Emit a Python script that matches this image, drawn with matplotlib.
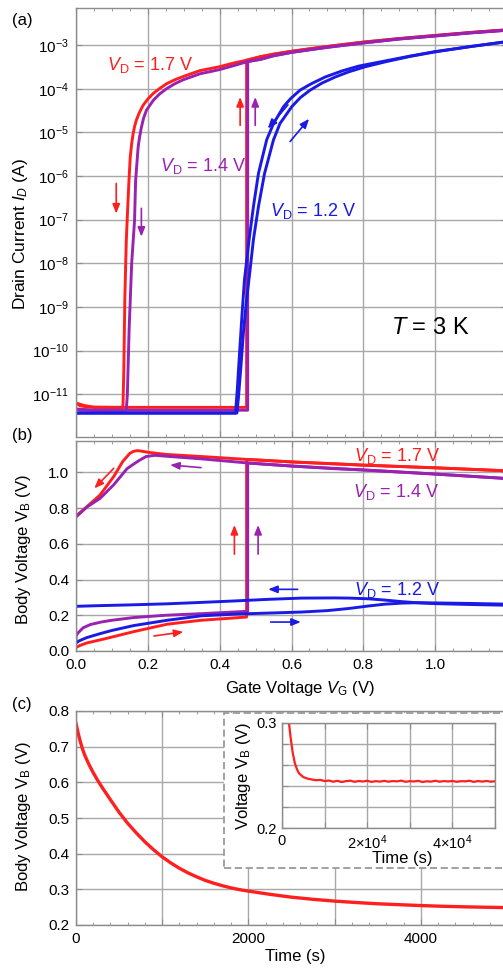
import numpy as np
import matplotlib
matplotlib.use('Agg')
import matplotlib.pyplot as plt
from matplotlib.ticker import FixedLocator, MultipleLocator, FuncFormatter, NullLocator
from matplotlib.patches import Rectangle

plt.rcParams['font.family'] = ['Liberation Sans', 'DejaVu Sans']
plt.rcParams['mathtext.fontset'] = 'custom'
plt.rcParams['mathtext.rm'] = 'Liberation Sans'
plt.rcParams['mathtext.it'] = 'Liberation Sans:italic'
plt.rcParams['mathtext.bf'] = 'Liberation Sans:bold'

RED = '#ff1f1f'
PURPLE = '#9a22b0'
BLUE = '#1a1ae6'

# ---------------- (a) drain current vs gate voltage ----------------
vg_a_red_fwd = [0.0, 0.01, 0.03, 0.1, 0.2, 0.3, 0.4, 0.475, 0.475, 0.513, 0.55, 0.6, 0.65, 0.7, 0.8,
                0.9, 1.0, 1.1, 1.2]
id_a_red_fwd = [6.3e-12, 5.5e-12, 5.1e-12, 5.0e-12, 5.0e-12, 5.0e-12, 5.0e-12, 5.0e-12, 4.5e-4,
                5.4e-4, 6.2e-4, 7.2e-4, 8.2e-4, 9.3e-4, 1.17e-3, 1.41e-3, 1.66e-3, 1.95e-3, 2.24e-3]
vg_a_red_rev = [1.2, 1.1, 1.0, 0.9, 0.8, 0.7, 0.65, 0.6, 0.55, 0.513, 0.475, 0.44, 0.4, 0.345, 0.298,
                0.275, 0.252, 0.232, 0.215, 0.2, 0.187, 0.176, 0.168, 0.163, 0.159, 0.155, 0.151,
                0.1475, 0.144, 0.140, 0.136, 0.133, 0.131, 0.13, 0.1, 0.05, 0.02, 0.0]
id_a_red_rev = [2.24e-3, 1.95e-3, 1.66e-3, 1.41e-3, 1.17e-3, 9.3e-4, 8.2e-4, 7.2e-4, 6.2e-4, 5.4e-4,
                4.5e-4, 3.9e-4, 3.2e-4, 2.6e-4, 1.9e-4, 1.6e-4, 1.3e-4, 1.0e-4, 7.8e-5, 5.8e-5,
                4.2e-5, 2.8e-5, 1.9e-5, 1.35e-5, 9.3e-6, 5.5e-6, 2.7e-6, 7.9e-7, 1.9e-7, 3.3e-8,
                1.6e-9, 3.2e-11, 6.3e-12, 5.0e-12, 5.0e-12, 5.0e-12, 5.6e-12, 6.3e-12]

vg_a_pur_fwd = [0.0, 0.01, 0.1, 0.2, 0.3, 0.4, 0.478, 0.478, 0.513, 0.55, 0.6, 0.65, 0.7, 0.8, 0.9,
                1.0, 1.1, 1.2]
id_a_pur_fwd = [4.6e-12, 4.3e-12, 4.3e-12, 4.3e-12, 4.3e-12, 4.3e-12, 4.3e-12, 4.2e-4, 4.7e-4,
                5.7e-4, 6.8e-4, 7.8e-4, 8.9e-4, 1.12e-3, 1.38e-3, 1.62e-3, 1.91e-3, 2.19e-3]
vg_a_pur_rev = [1.2, 1.1, 1.0, 0.9, 0.8, 0.7, 0.65, 0.6, 0.55, 0.513, 0.478, 0.44, 0.4, 0.345, 0.298,
                0.275, 0.252, 0.232, 0.215, 0.196, 0.188, 0.182, 0.177, 0.173, 0.166, 0.163, 0.155,
                0.148, 0.143, 0.14, 0.1, 0.05, 0.0]
id_a_pur_rev = [2.19e-3, 1.91e-3, 1.62e-3, 1.38e-3, 1.12e-3, 8.9e-4, 7.8e-4, 6.8e-4, 5.7e-4, 4.7e-4,
                4.2e-4, 3.4e-4, 2.75e-4, 2.2e-4, 1.6e-4, 1.3e-4, 1.0e-4, 7.5e-5, 5.4e-5, 3.2e-5,
                2.1e-5, 1.3e-5, 7.8e-6, 4.6e-6, 7.9e-7, 9.5e-8, 1.0e-8, 3.2e-10, 1.0e-11, 4.3e-12,
                4.3e-12, 4.3e-12, 4.6e-12]

vg_a_blu_fwd = [0.0, 0.2, 0.4, 0.448, 0.452, 0.458, 0.466, 0.474, 0.484, 0.494, 0.508, 0.525, 0.55,
                0.568, 0.601, 0.625, 0.652, 0.685, 0.722, 0.76, 0.806, 0.862, 0.93, 1.0, 1.1, 1.2]
id_a_blu_fwd = [3.7e-12, 3.7e-12, 3.7e-12, 3.7e-12, 7.9e-12, 3.2e-11, 2.5e-10, 1.26e-9, 6.3e-9,
                3.5e-8, 2.0e-7, 1.15e-6, 6.8e-6, 1.6e-5, 3.9e-5, 6.3e-5, 9.3e-5, 1.35e-4, 1.86e-4,
                2.45e-4, 3.2e-4, 4.15e-4, 5.5e-4, 7.0e-4, 9.3e-4, 1.2e-3]
vg_a_blu_rev = [1.2, 1.1, 1.0, 0.93, 0.862, 0.787, 0.74, 0.694, 0.655, 0.624, 0.598, 0.578, 0.55,
                0.531, 0.508, 0.494, 0.482, 0.469, 0.462, 0.455, 0.449, 0.444, 0.3, 0.1, 0.0]
id_a_blu_rev = [1.2e-3, 9.3e-4, 7.1e-4, 5.6e-4, 4.35e-4, 3.3e-4, 2.55e-4, 1.86e-4, 1.3e-4, 9.3e-5,
                6.0e-5, 3.9e-5, 1.6e-5, 6.8e-6, 1.15e-6, 2.0e-7, 3.5e-8, 4.2e-9, 6.3e-10, 7.9e-11,
                1.26e-11, 3.7e-12, 3.7e-12, 3.7e-12, 3.7e-12]

# ---------------- (b) body voltage vs gate voltage ----------------
vg_b_red_fwd = [0.0, 0.01, 0.03, 0.067, 0.1, 0.16, 0.254, 0.348, 0.42, 0.475, 0.475, 0.6, 0.8, 1.0, 1.2]
vb_b_red_fwd = [0.02, 0.03, 0.045, 0.062, 0.078, 0.108, 0.15, 0.172, 0.182, 0.19, 1.072,
                1.058, 1.04, 1.025, 1.008]
vg_b_red_rev = [1.2, 1.0, 0.8, 0.6, 0.475, 0.35, 0.25, 0.2, 0.18, 0.17, 0.16, 0.15, 0.13, 0.105,
                0.067, 0.03, 0.0]
vb_b_red_rev = [1.008, 1.025, 1.04, 1.058, 1.072, 1.088, 1.1, 1.112, 1.119, 1.121, 1.117, 1.106,
                1.06, 0.976, 0.873, 0.807, 0.755]

vg_b_pur_fwd = [0.0, 0.0, 0.005, 0.02, 0.04, 0.07, 0.1, 0.16, 0.25, 0.35, 0.478, 0.478, 0.6, 0.72,
                0.8, 1.0, 1.2]
vb_b_pur_fwd = [0.06, 0.085, 0.1, 0.13, 0.148, 0.162, 0.172, 0.187, 0.2, 0.209, 0.222, 1.052,
                1.035, 1.02, 1.013, 0.99, 0.965]
vg_b_pur_rev = [1.2, 1.0, 0.8, 0.6, 0.478, 0.35, 0.25, 0.22, 0.195, 0.175, 0.16, 0.142, 0.105,
                0.067, 0.03, 0.0]
vb_b_pur_rev = [0.965, 0.99, 1.013, 1.035, 1.052, 1.075, 1.09, 1.095, 1.088, 1.065, 1.045, 1.02,
                0.93, 0.854, 0.805, 0.75]

vg_b_blu_fwd = [0.0, 0.01, 0.03, 0.067, 0.1, 0.16, 0.254, 0.35, 0.45, 0.55, 0.628, 0.7, 0.76, 0.815,
                0.86, 0.908, 0.95, 1.0, 1.1, 1.2]
vb_b_blu_fwd = [0.045, 0.058, 0.075, 0.097, 0.115, 0.142, 0.172, 0.197, 0.207, 0.213, 0.218, 0.226,
                0.238, 0.252, 0.262, 0.268, 0.27, 0.269, 0.266, 0.262]
vg_b_blu_rev = [1.2, 1.1, 1.0, 0.95, 0.908, 0.86, 0.815, 0.76, 0.721, 0.628, 0.535, 0.441, 0.35,
                0.254, 0.15, 0.05, 0.0]
vb_b_blu_rev = [0.256, 0.26, 0.265, 0.27, 0.276, 0.285, 0.292, 0.296, 0.297, 0.296, 0.289, 0.28,
                0.272, 0.264, 0.258, 0.253, 0.25]

# ---------------- (c) body voltage vs time ----------------
t_c = [0, 25, 50, 75, 100, 150, 200, 250, 300, 400, 500, 600, 700, 800, 900, 1000, 1100, 1200,
       1300, 1400, 1500, 1600, 1700, 1800, 1900, 2000, 2250, 2500, 2750, 3000, 3250, 3500, 3750,
       4000, 4250, 4500, 4750, 5000]
vb_c = [0.765, 0.738, 0.714, 0.694, 0.677, 0.650, 0.627, 0.606, 0.587, 0.551, 0.516, 0.485, 0.458,
        0.433, 0.411, 0.391, 0.374, 0.359, 0.346, 0.335, 0.325, 0.317, 0.310, 0.304, 0.299, 0.295,
        0.286, 0.278, 0.272, 0.267, 0.263, 0.2595, 0.257, 0.2545, 0.2525, 0.251, 0.2498, 0.2488]

t_inset = [0, 500, 1000, 1500, 2000, 2500, 3000, 3500, 4000, 5000, 6000, 7000, 8000,
           9000, 10000, 11000, 12000, 13000, 14000, 15000, 16000, 17000, 18000, 19000, 20000,
           21000, 22000, 23000, 24000, 25000, 26000, 27000, 28000, 29000, 30000, 31000, 32000,
           33000, 34000, 35000, 36000, 37000, 38000, 39000, 40000, 41000, 42000, 43000, 44000,
           45000, 46000, 47000, 48000, 49000, 50000]
vb_inset = [0.765, 0.52, 0.40, 0.305, 0.287, 0.272, 0.262, 0.256, 0.252, 0.2485, 0.2470, 0.2462,
            0.2455, 0.2458, 0.2447, 0.2452, 0.2441, 0.2449, 0.2438, 0.2446, 0.2451, 0.2440,
            0.2447, 0.2443, 0.2450, 0.2439, 0.2446, 0.2442, 0.2449, 0.2441, 0.2447, 0.2444,
            0.2451, 0.2440, 0.2446, 0.2443, 0.2449, 0.2438, 0.2445, 0.2442, 0.2450, 0.2441,
            0.2447, 0.2443, 0.2448, 0.2440, 0.2446, 0.2444, 0.2450, 0.2439, 0.2447, 0.2442,
            0.2448, 0.2441, 0.2445]

W, H = 503, 969
fig = plt.figure(figsize=(W / 100, H / 100), dpi=100)


def fr(l, t, r, b):
    return [l / W, 1 - b / H, (r - l) / W, (b - t) / H]


GRID = '#a8a8a8'
SPINE = '#8c8c8c'


def style(ax, labelsize=11):
    for s in ax.spines.values():
        s.set_color(SPINE)
        s.set_linewidth(1.0)
    ax.tick_params(which='both', direction='in', top=True, right=True, color=SPINE,
                   labelsize=labelsize, pad=5)
    ax.tick_params(which='major', length=4)
    ax.tick_params(which='minor', length=2.5)
    ax.grid(True, which='major', color=GRID, lw=1.0)
    ax.set_axisbelow(True)


def arrow(ax, x0, y0, x1, y1, color):
    ax.annotate('', xy=(x1, y1), xytext=(x0, y0),
                arrowprops=dict(arrowstyle='-|>,head_length=0.55,head_width=0.22', lw=1.2,
                                color=color, shrinkA=0, shrinkB=0))


LW = 2.1

# ----- panel (a)
axA = fig.add_axes(fr(76, 8, 507, 437))
style(axA)
axA.set_yscale('log')
axA.plot(vg_a_red_fwd, id_a_red_fwd, color=RED, lw=LW)
axA.plot(vg_a_red_rev, id_a_red_rev, color=RED, lw=LW)
axA.plot(vg_a_pur_rev, id_a_pur_rev, color=PURPLE, lw=LW)
axA.plot(vg_a_pur_fwd, id_a_pur_fwd, color=PURPLE, lw=LW)
axA.plot(vg_a_blu_fwd, id_a_blu_fwd, color=BLUE, lw=LW)
axA.plot(vg_a_blu_rev, id_a_blu_rev, color=BLUE, lw=LW)
axA.set_xlim(0, 1.2)
axA.set_ylim(10 ** -11.98, 10 ** -2.15)
axA.xaxis.set_major_locator(MultipleLocator(0.2))
axA.xaxis.set_minor_locator(MultipleLocator(0.05))
axA.yaxis.set_major_locator(FixedLocator([10.0 ** k for k in range(-11, -2)]))
axA.yaxis.set_minor_locator(NullLocator())
axA.yaxis.set_major_formatter(FuncFormatter(
    lambda v, p: r'10$^{\mathregular{%d}}$' % int(round(np.log10(v)))))
axA.tick_params(labelbottom=False)
axA.set_ylabel(r'Drain Current $I_D$ (A)', fontsize=12.5)
axA.yaxis.set_label_coords(-0.107, 0.473)

axA.text(0.205, 10 ** -3.46, r'$V_\mathrm{D}$ = 1.7 V', color=RED, fontsize=13,
         ha='center', va='center')
axA.text(0.353, 10 ** -5.77, r'$V_\mathrm{D}$ = 1.4 V', color=PURPLE, fontsize=13,
         ha='center', va='center')
axA.text(0.659, 10 ** -6.81, r'$V_\mathrm{D}$ = 1.2 V', color=BLUE, fontsize=13,
         ha='center', va='center')
axA.text(0.985, 10 ** -9.48, r'$T$ = 3 K', color='black', fontsize=17, ha='center', va='center')

arrow(axA, 0.112, 10 ** -6.17, 0.112, 10 ** -6.86, RED)
arrow(axA, 0.182, 10 ** -6.74, 0.182, 10 ** -7.39, PURPLE)
arrow(axA, 0.457, 10 ** -4.84, 0.457, 10 ** -4.19, RED)
arrow(axA, 0.499, 10 ** -4.84, 0.499, 10 ** -4.19, PURPLE)
arrow(axA, 0.59, 10 ** -4.37, 0.534, 10 ** -4.91, BLUE)
arrow(axA, 0.596, 10 ** -5.21, 0.649, 10 ** -4.69, BLUE)

# ----- panel (b)
axB = fig.add_axes(fr(76, 441, 507, 651))
style(axB)
axB.plot(vg_b_red_fwd, vb_b_red_fwd, color=RED, lw=LW)
axB.plot(vg_b_red_rev, vb_b_red_rev, color=RED, lw=LW)
axB.plot(vg_b_pur_rev, vb_b_pur_rev, color=PURPLE, lw=LW)
axB.plot(vg_b_pur_fwd, vb_b_pur_fwd, color=PURPLE, lw=LW)
axB.plot(vg_b_blu_fwd, vb_b_blu_fwd, color=BLUE, lw=LW)
axB.plot(vg_b_blu_rev, vb_b_blu_rev, color=BLUE, lw=LW)
axB.set_xlim(0, 1.2)
axB.set_ylim(0, 1.175)
axB.xaxis.set_major_locator(MultipleLocator(0.2))
axB.xaxis.set_minor_locator(MultipleLocator(0.05))
axB.yaxis.set_major_locator(MultipleLocator(0.2))
axB.xaxis.set_major_formatter(FuncFormatter(lambda v, p: '' if v > 1.1 else '%.1f' % v))
axB.yaxis.set_major_formatter(FuncFormatter(lambda v, p: '%.1f' % v))
axB.set_xlabel(r'Gate Voltage $V_\mathrm{G}$ (V)', fontsize=12)
axB.xaxis.set_label_coords((300 - 76) / 431, -(679 - 651) / 210)
axB.set_ylabel(r'Body Voltage V$_\mathrm{B}$ (V)', fontsize=12)
axB.yaxis.set_label_coords(-0.10, 0.483)

axB.text(0.895, 1.09, r'$V_\mathrm{D}$ = 1.7 V', color=RED, fontsize=13, ha='center', va='center')
axB.text(0.89, 0.89, r'$V_\mathrm{D}$ = 1.4 V', color=PURPLE, fontsize=13, ha='center', va='center')
axB.text(0.895, 0.34, r'$V_\mathrm{D}$ = 1.2 V', color=BLUE, fontsize=13, ha='center', va='center')

arrow(axB, 0.105, 1.022, 0.051, 0.91, RED)
arrow(axB, 0.348, 1.026, 0.262, 1.041, PURPLE)
arrow(axB, 0.441, 0.542, 0.441, 0.705, RED)
arrow(axB, 0.507, 0.542, 0.507, 0.705, PURPLE)
arrow(axB, 0.617, 0.345, 0.535, 0.345, BLUE)
arrow(axB, 0.542, 0.162, 0.626, 0.162, BLUE)
arrow(axB, 0.217, 0.084, 0.299, 0.107, RED)

# ----- panel (c)
axC = fig.add_axes(fr(76, 711, 507, 925))
style(axC)
axC.plot(t_c, vb_c, color=RED, lw=2.4)
axC.set_xlim(0, 5000)
axC.set_ylim(0.2, 0.8)
axC.xaxis.set_major_locator(MultipleLocator(1000))
axC.xaxis.set_minor_locator(MultipleLocator(200))
axC.yaxis.set_major_locator(MultipleLocator(0.1))
axC.xaxis.set_major_formatter(FuncFormatter(
    lambda v, p: '%d' % round(v) if round(v) % 2000 == 0 else ''))
axC.yaxis.set_major_formatter(FuncFormatter(lambda v, p: '%.1f' % v))
axC.set_xlabel('Time (s)', fontsize=12)
axC.xaxis.set_label_coords((295 - 76) / 431, -(949 - 925) / 214)
axC.set_ylabel(r'Body Voltage V$_\mathrm{B}$ (V)', fontsize=12)
axC.yaxis.set_label_coords(-0.10, 0.507)

box = Rectangle((224 / W, 1 - 868 / H), (512 - 224) / W, (868 - 713) / H,
                transform=fig.transFigure, facecolor='white', edgecolor='#9a9a9a',
                lw=1.3, ls=(0, (4, 2)), zorder=2)
fig.add_artist(box)

axI = fig.add_axes(fr(282, 723, 495, 828))
axI.set_zorder(3)
style(axI, labelsize=10.5)
axI.tick_params(which='both', pad=4)
axI.plot(t_inset, vb_inset, color=RED, lw=1.6)
axI.set_xlim(0, 50000)
axI.set_ylim(0.2, 0.3)
axI.xaxis.set_major_locator(MultipleLocator(10000))
axI.yaxis.set_major_locator(MultipleLocator(0.02))


def inset_x(v, p):
    k = int(round(v / 10000))
    if k == 0:
        return '0'
    if k % 2 == 0 and k < 5:
        return r'%d$\times$10$^{\mathregular{4}}$' % k
    return ''


axI.xaxis.set_major_formatter(FuncFormatter(inset_x))
axI.yaxis.set_major_formatter(FuncFormatter(
    lambda v, p: '%.1f' % v if abs(v - 0.2) < 1e-6 or abs(v - 0.3) < 1e-6 else ''))
axI.set_xlabel('Time (s)', fontsize=12)
axI.xaxis.set_label_coords((402 - 282) / 213, -(851 - 828) / 105)
axI.set_ylabel(r'Voltage V$_\mathrm{B}$ (V)', fontsize=12)
axI.yaxis.set_label_coords(-(282 - 253) / 213, 0.5)

# panel letters
fig.text(12 / W, 1 - 21 / H, '(a)', fontsize=12, va='center', ha='left')
fig.text(12 / W, 1 - 435 / H, '(b)', fontsize=12, va='center', ha='left')
fig.text(12 / W, 1 - 704 / H, '(c)', fontsize=12, va='center', ha='left')

fig.savefig('out.png', dpi=100)
